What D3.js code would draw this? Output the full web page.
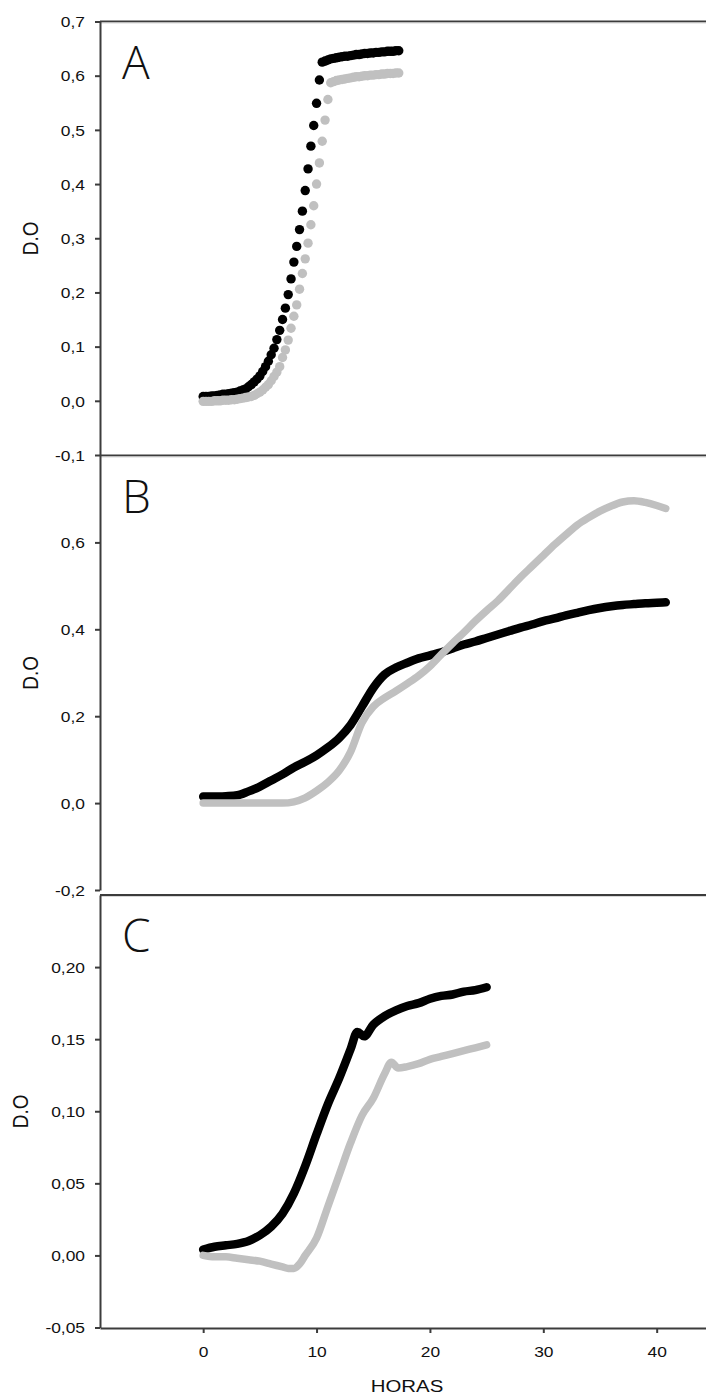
<!DOCTYPE html>
<meta charset="utf-8" />
<script src="https://d3js.org/d3.v7.min.js"></script>
<style>
  body { margin: 0; background: #fff; }
  text { font-family: "Liberation Sans", Arial, sans-serif; fill: #111; }
  .letter { font-family: "Open Sans", "Noto Sans", sans-serif; font-weight: 300; }
</style>
<body>
<div id="chart"></div>
<script>
// ---- data ----
// panel A, sampled every 15 min
const hoursA = [0,0.25,0.5,0.75,1,1.25,1.5,1.75,2,2.25,2.5,2.75,3,3.25,3.5,3.75,4,4.25,4.5,4.75,
  5,5.25,5.5,5.75,6,6.25,6.5,6.75,7,7.25,7.5,7.75,8,8.25,8.5,8.75,9,9.25,9.5,9.75,
  10,10.25,10.5,10.75,11,11.25,11.5,11.75,12,12.25,12.5,12.75,13,13.25,13.5,13.75,14,14.25,14.5,14.75,
  15,15.25,15.5,15.75,16,16.25,16.5,16.75,17,17.25];
const blackA = [0.008,0.008,0.008,0.009,0.009,0.010,0.011,0.012,0.012,0.013,0.014,0.015,0.016,0.018,0.020,0.022,0.026,0.030,0.035,0.040,
  0.046,0.054,0.063,0.073,0.085,0.097,0.113,0.130,0.150,0.171,0.196,0.225,0.256,0.285,0.316,0.350,0.388,0.428,0.470,0.508,
  0.549,0.592,0.625,0.627,0.629,0.631,0.632,0.633,0.634,0.635,0.636,0.636,0.637,0.638,0.639,0.639,0.640,0.641,0.641,0.642,
  0.642,0.643,0.643,0.644,0.644,0.645,0.645,0.645,0.646,0.646];
const grayA = [-0.001,-0.001,-0.001,-0.001,0.000,0.000,0.000,0.001,0.001,0.001,0.002,0.002,0.003,0.004,0.005,0.006,0.007,0.008,0.010,0.013,
  0.016,0.020,0.025,0.030,0.037,0.045,0.053,0.063,0.080,0.094,0.112,0.134,0.156,0.177,0.206,0.235,0.262,0.291,0.325,0.360,
  0.400,0.439,0.479,0.518,0.556,0.587,0.589,0.591,0.592,0.593,0.594,0.595,0.596,0.597,0.598,0.598,0.599,0.600,0.600,0.601,
  0.601,0.602,0.602,0.603,0.603,0.604,0.604,0.604,0.605,0.605];

// panel B
const hoursB = [0,1,2,3,4,5,6,7,8,9,10,11,12,13,14,15,16,17,18,19,20,21,22,23,24,25,26,27,28,29,30,31,32,33,34,35,36,37,38,39,40,40.8];
const blackB = [0.015,0.015,0.016,0.018,0.027,0.038,0.052,0.066,0.082,0.095,0.110,0.128,0.150,0.180,0.222,0.265,0.296,0.312,0.323,0.333,
  0.340,0.347,0.356,0.365,0.372,0.380,0.388,0.396,0.404,0.411,0.419,0.425,0.432,0.438,0.444,0.449,0.453,0.456,0.458,0.460,0.461,0.462];
const grayB = [0.000,0.000,0.000,0.000,0.000,0.000,0.000,0.000,0.003,0.012,0.028,0.048,0.075,0.118,0.185,0.222,0.242,0.258,0.275,0.293,
  0.315,0.342,0.368,0.393,0.419,0.443,0.466,0.493,0.520,0.545,0.570,0.595,0.618,0.640,0.657,0.672,0.684,0.693,0.696,0.692,0.685,0.678];

// panel C
const hoursCBlack = [0,1,2,3,4,5,6,7,8,9,10,11,12,13,13.6,14.2,15,16,17,18,19,20,21,22,23,24,25];
const blackC = [0.004,0.006,0.007,0.008,0.010,0.014,0.020,0.029,0.043,0.062,0.084,0.105,0.123,0.143,0.155,0.152,0.160,0.166,0.170,0.173,
  0.175,0.178,0.180,0.181,0.183,0.184,0.186];
const hoursCGray = [0,1,2,3,4,5,6,7,7.5,8,8.5,9,10,11,12,13,14,15,16,16.6,17.2,18,19,20,21,22,23,24,25];
const grayC = [0.000,-0.001,-0.001,-0.002,-0.003,-0.004,-0.006,-0.008,-0.009,-0.009,-0.006,0.000,0.012,0.034,0.056,0.078,0.097,0.109,0.126,0.134,
  0.130,0.131,0.133,0.136,0.138,0.140,0.142,0.144,0.146];

const ticksA = [-0.1,0,0.1,0.2,0.3,0.4,0.5,0.6,0.7];
const ticksB = [-0.2,0,0.2,0.4,0.6];
const ticksC = [-0.05,0,0.05,0.10,0.15,0.20];
const ticksX = [0,10,20,30,40];

const BLACK = "#000";
const GRAY = "#c0c0c0";
const AXIS = "#3c3c3c";

const W = 706, H = 1396;
const left = 100, right = 706, xAxisY = 1328;

const svg = d3.select("#chart").append("svg")
  .attr("width", W).attr("height", H)
  .style("display", "block");

svg.append("rect").attr("width", W).attr("height", H).attr("fill", "#fff");

const x = d3.scaleLinear().domain([-9.1, 44.35]).range([left, right]);

// number with comma decimal and a plain hyphen
function comma(dec) {
  const f = d3.format("." + dec + "f");
  return (d) => f(d).replace("\u2212", "-").replace(".", ",");
}

const panels = [
  { letter: "A", top: 21.5, bottom: 455, domain: [-0.1, 0.7], ticks: ticksA, fmt: comma(1), labelX: 30 },
  { letter: "B", top: 455.5, bottom: 890, domain: [-0.2, 0.8], ticks: ticksB, fmt: comma(1), labelX: 30 },
  { letter: "C", top: 895, bottom: 1327.5, domain: [-0.05, 0.25], ticks: ticksC, fmt: comma(2), labelX: 20 }
];

panels.forEach((p) => {
  p.y = d3.scaleLinear().domain(p.domain).range([p.bottom, p.top]);
  const g = svg.append("g");

  // top frame line
  g.append("line")
    .attr("x1", left).attr("x2", right)
    .attr("y1", p.top).attr("y2", p.top)
    .attr("stroke", AXIS).attr("stroke-width", 2);
  g.append("line")
    .attr("x1", left).attr("x2", right)
    .attr("y1", p.top + 1.5).attr("y2", p.top + 1.5)
    .attr("stroke", "#d8d8d8").attr("stroke-width", 1);

  const ax = g.append("g")
    .attr("transform", `translate(${left},0)`)
    .call(d3.axisLeft(p.y).tickValues(p.ticks).tickSize(5).tickSizeOuter(0).tickFormat(p.fmt));
  ax.select(".domain").attr("stroke", AXIS).attr("stroke-width", 2);
  ax.selectAll(".tick line").attr("stroke", AXIS).attr("stroke-width", 2);
  ax.selectAll(".tick text")
    .attr("x", 0).attr("dy", "0.36em")
    .attr("transform", "translate(-15,0) scale(1.2,1)")
    .attr("font-size", 14.5)
    .attr("font-family", "Liberation Sans, Arial, sans-serif")
    .attr("fill", "#111");

  // axis title
  g.append("text")
    .attr("transform", `translate(${p.labelX},${(p.top + p.bottom) / 2}) scale(1.2,1) rotate(-90)`)
    .attr("text-anchor", "middle")
    .attr("dy", "0.36em")
    .attr("font-size", 19)
    .text("D.O");

  // panel letter
  g.append("text")
    .attr("class", "letter")
    .attr("x", 122)
    .attr("y", p.top + 57)
    .attr("font-size", 46)
    .attr("fill", "#000")
    .text(p.letter);
});

// ---- panel A: markers ----
const yA = panels[0].y;
const ptsA = (vals) => hoursA.map((h, i) => [h, vals[i]]);
[[blackA, BLACK], [grayA, GRAY]].forEach(([vals, col]) => {
  svg.append("g").selectAll("circle")
    .data(ptsA(vals))
    .join("circle")
    .attr("cx", (d) => x(d[0]))
    .attr("cy", (d) => yA(d[1]))
    .attr("r", 4.7)
    .attr("fill", col);
});

// ---- panels B and C: thick lines ----
function drawLine(y, hours, vals, col, w) {
  const line = d3.line()
    .x((d) => x(d[0]))
    .y((d) => y(d[1]))
    .curve(d3.curveMonotoneX);
  svg.append("path")
    .datum(hours.map((h, i) => [h, vals[i]]))
    .attr("d", line)
    .attr("fill", "none")
    .attr("stroke", col)
    .attr("stroke-width", w)
    .attr("stroke-linecap", "round")
    .attr("stroke-linejoin", "round");
}
drawLine(panels[1].y, hoursB, blackB, BLACK, 8.5);
drawLine(panels[1].y, hoursB, grayB, GRAY, 7.5);
drawLine(panels[2].y, hoursCBlack, blackC, BLACK, 8.5);
drawLine(panels[2].y, hoursCGray, grayC, GRAY, 7.5);

// ---- x axis ----
const xa = svg.append("g")
  .attr("transform", `translate(0,${xAxisY})`)
  .call(d3.axisBottom(x).tickValues(ticksX).tickSize(5).tickSizeOuter(0).tickFormat(d3.format("d")));
xa.select(".domain").attr("stroke", AXIS).attr("stroke-width", 2);
xa.selectAll(".tick line").attr("stroke", AXIS).attr("stroke-width", 2);
xa.selectAll(".tick text")
  .attr("y", 0).attr("dy", 0)
  .attr("transform", "translate(0,28.5) scale(1.2,1)")
  .attr("font-size", 14.5)
  .attr("font-family", "Liberation Sans, Arial, sans-serif")
  .attr("fill", "#111");

svg.append("text")
  .attr("transform", "translate(407,1392) scale(1.2,1)")
  .attr("text-anchor", "middle")
  .attr("font-size", 17)
  .text("HORAS");
</script>
</body>
